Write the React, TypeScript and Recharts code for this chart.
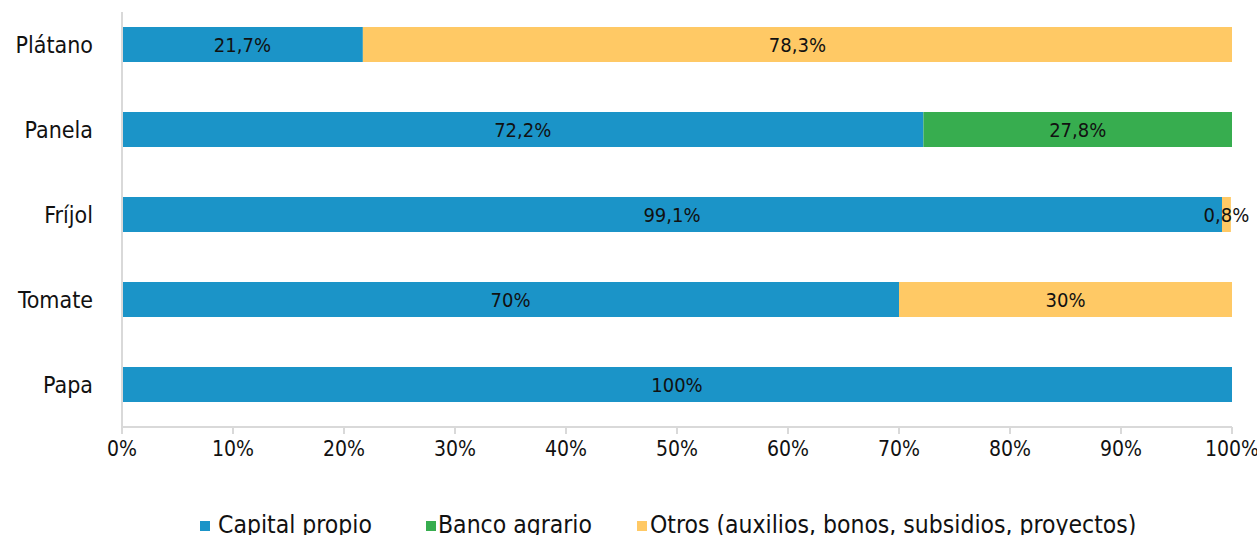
import React from "react";
import {
  BarChart,
  Bar,
  XAxis,
  YAxis,
  LabelList,
  Legend,
} from "recharts";

const categories = ["Plátano", "Panela", "Fríjol", "Tomate", "Papa"];
const capitalPropio = [21.7, 72.2, 99.1, 70, 100];
const bancoAgrario = [0, 27.8, 0, 0, 0];
const otros = [78.3, 0, 0.8, 30, 0];
const xTicks = [0, 10, 20, 30, 40, 50, 60, 70, 80, 90, 100];

const SERIES = [
  { key: "capital", name: "Capital propio", color: "#1B94C8" },
  { key: "banco", name: "Banco agrario", color: "#37AD4F" },
  { key: "otros", name: "Otros (auxilios, bonos, subsidios, proyectos)", color: "#FFC965" },
];

const data = categories.map((name, i) => ({
  name,
  capital: capitalPropio[i] || undefined,
  banco: bancoAgrario[i] || undefined,
  otros: otros[i] || undefined,
}));

const FONT = "'DejaVu Sans Condensed', 'DejaVu Sans', sans-serif";

const formatPct = (v: unknown) =>
  v === undefined || v === null || v === 0 ? "" : `${String(v).replace(".", ",")}%`;

// legend item placement (px from the left edge) and gap between swatch and text
const LEGEND_LEFT = [200, 426, 637];
const LEGEND_GAP = [8, 2, 3];

const renderLegend = () => (
  <div style={{ position: "relative", width: 1257, height: 58, fontFamily: FONT }}>
    {SERIES.map((s, i) => (
      <div
        key={s.key}
        style={{
          position: "absolute",
          left: LEGEND_LEFT[i],
          top: 34,
          fontSize: 24.5,
          lineHeight: "28px",
          color: "#111",
          whiteSpace: "nowrap",
        }}
      >
        <span
          style={{
            display: "inline-block",
            width: 10,
            height: 10,
            background: s.color,
            marginRight: LEGEND_GAP[i],
            verticalAlign: 2,
          }}
        />
        {s.name}
      </div>
    ))}
  </div>
);

export default function App() {
  return (
    <div style={{ position: "absolute", left: 0, top: 0, background: "#fff" }}>
      <BarChart
        width={1257}
        height={535}
        data={data}
        layout="vertical"
        margin={{ top: 12, right: 25, left: 0, bottom: 0 }}
        barSize={35}
        style={{ fontFamily: FONT }}
      >
        <XAxis
          type="number"
          domain={[0, 100]}
          ticks={xTicks}
          tickFormatter={(v) => `${v}%`}
          height={50}
          axisLine={{ stroke: "#d9d9d9", strokeWidth: 2 }}
          tickLine={{ stroke: "#d9d9d9", strokeWidth: 2 }}
          tickSize={7}
          tickMargin={7}
          tick={{ fill: "#111", fontSize: 21 }}
          interval={0}
        />
        <YAxis
          type="category"
          dataKey="name"
          width={122}
          padding={{ top: -10, bottom: 0 }}
          axisLine={{ stroke: "#d9d9d9", strokeWidth: 2 }}
          tickLine={false}
          tickSize={8}
          tickMargin={21}
          tick={{ fill: "#111", fontSize: 23 }}
        />
        <Legend content={renderLegend} verticalAlign="bottom" height={58} />
        {SERIES.map((s) => (
          <Bar
            key={s.key}
            dataKey={s.key}
            name={s.name}
            stackId="a"
            fill={s.color}
            isAnimationActive={false}
          >
            <LabelList
              dataKey={s.key}
              position="center"
              formatter={formatPct}
              style={{ fill: "#111", fontSize: 20, fontFamily: FONT }}
            />
          </Bar>
        ))}
      </BarChart>
    </div>
  );
}
